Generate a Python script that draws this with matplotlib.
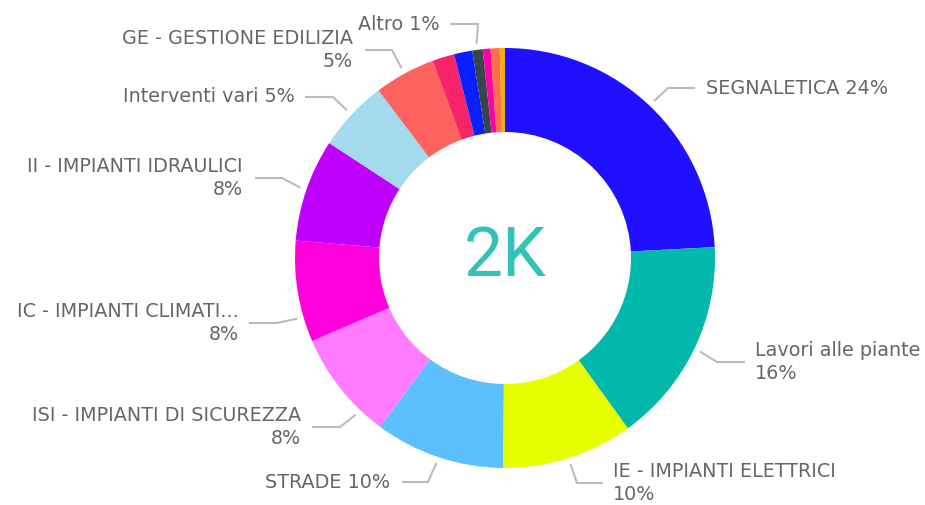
import numpy as np
import matplotlib
matplotlib.use('Agg')
import matplotlib.pyplot as plt

plt.rcParams['font.family'] = ['DejaVu Sans']

# slice data, clockwise from 12 o'clock
categories = ['SEGNALETICA', 'Lavori alle piante', 'IE - IMPIANTI ELETTRICI', 'STRADE',
              'ISI - IMPIANTI DI SICUREZZA', 'IC - IMPIANTI CLIMATI...', 'II - IMPIANTI IDRAULICI',
              'Interventi vari', 'GE - GESTIONE EDILIZIA', 'cat10', 'cat11', 'Altro',
              'cat13', 'cat14', 'cat15']
counts = [484, 318, 202, 200, 168, 156, 158, 110, 94, 34, 28, 16, 12, 14, 8]
pct_labels = ['24%', '16%', '10%', '10%', '8%', '8%', '8%', '5%', '5%', '', '', '1%', '', '', '']
colors = ['#2010FF', '#01B8AA', '#E8FF00', '#5CC0FF', '#FF7BFF', '#FF00DC', '#BF00FF',
          '#A3DAEE', '#FD625E', '#F8246A', '#0A1FFF', '#374649', '#FF00A8', '#FF6E4A', '#F2B00F']
center_text = '2K'

# label layout in pixels: (line break?, elbow x, elbow y, end x, text x, angle shift)
CX, CY, R = 505, 258, 210
layout = {
    'SEGNALETICA': (False, 668, 88, 695, 706, 0),
    'Lavori alle piante': (True, 717, 362, 745, 755, 0),
    'IE - IMPIANTI ELETTRICI': (True, 577, 483, 603, 613, 0),
    'STRADE': (False, 428, 482, 402, 390, 0),
    'ISI - IMPIANTI DI SICUREZZA': (True, 340, 427, 312, 301, 8),
    'IC - IMPIANTI CLIMATI...': (True, 277, 323, 249, 239, 7),
    'II - IMPIANTI IDRAULICI': (True, 282, 178, 255, 243, 0),
    'Interventi vari': (False, 333, 97, 305, 295, 0),
    'GE - GESTIONE EDILIZIA': (True, 392, 50, 365, 353, 0),
    'Altro': (False, 478, 24, 450, 440, 0),
}


def px(x, y):
    return (x - CX) / R, (CY - y) / R


fig = plt.figure(figsize=(9.25, 5.05), dpi=100)
ax = fig.add_axes([0, 0, 1, 1])
wedges, _ = ax.pie(counts, colors=colors, startangle=90, counterclock=False,
                   radius=1.0, wedgeprops=dict(width=0.4, linewidth=0))
ax.set_xlim(-CX / R, (925 - CX) / R)
ax.set_ylim(-(505 - CY) / R, CY / R)
ax.set_aspect('auto')
ax.axis('off')

ax.text(0, 0.005, center_text, ha='center', va='center', fontsize=50,
        color='#33C3B6', family=['Roboto', 'DejaVu Sans'])

txt_color = '#666666'
line_color = '#BBBBBB'
for w, cat, pct in zip(wedges, categories, pct_labels):
    if cat not in layout:
        continue
    two_line, ex, ey, endx, tx, shift = layout[cat]
    # theta in matplotlib degrees (counter-clockwise from 3 o'clock)
    mid = np.deg2rad((w.theta1 + w.theta2) / 2 + shift)
    sx, sy = 1.03 * np.cos(mid), 1.03 * np.sin(mid)
    exd, eyd = px(ex, ey)
    endxd, _ = px(endx, ey)
    ax.plot([sx, exd, endxd], [sy, eyd, eyd], color=line_color, lw=1.5,
            solid_capstyle='butt', clip_on=False)
    label = cat + ('\n' if two_line else ' ') + pct
    ha = 'left' if tx > endx else 'right'
    txd, _ = px(tx, ey)
    ax.text(txd, eyd, label, ha=ha, va='center', multialignment=ha,
            fontsize=13.8, color=txt_color, linespacing=1.32)

fig.savefig('out.png', dpi=100)
